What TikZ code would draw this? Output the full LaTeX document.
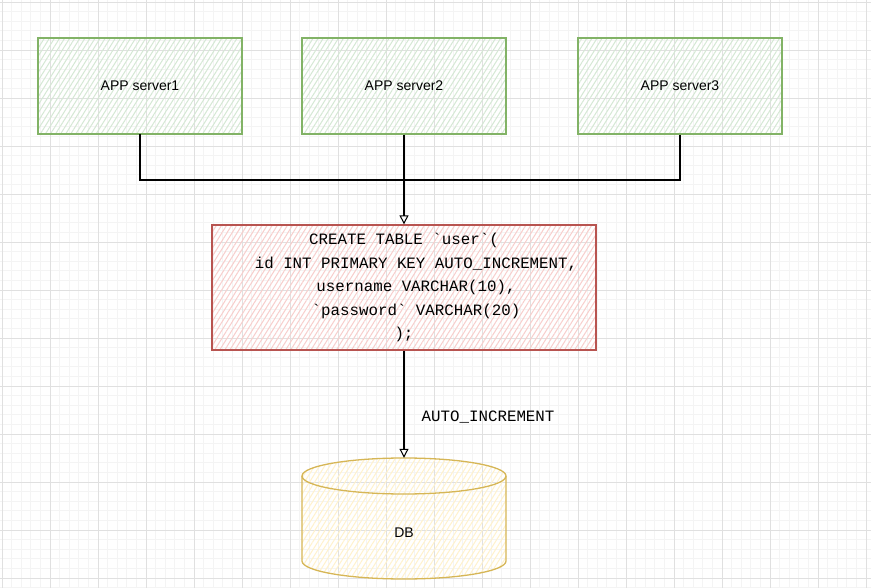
\documentclass[tikz,border=0pt]{standalone}
\usepackage{fontspec}
\setmainfont{Liberation Sans}
\newfontfamily\sqlfont{Liberation Mono}
\usetikzlibrary{patterns.meta,arrows.meta,calc}
\definecolor{gstroke}{HTML}{82B366}
\definecolor{ghatch}{HTML}{D5E8D4}
\definecolor{rstroke}{HTML}{B85450}
\definecolor{rhatch}{HTML}{F8CECC}
\definecolor{ystroke}{HTML}{D6B656}
\definecolor{yhatch}{HTML}{FFF2CC}
\definecolor{minorgrid}{HTML}{F4F4F4}
\definecolor{majorgrid}{HTML}{E0E0E0}
\tikzset{
  hatch/.style={pattern={Lines[angle=58,distance=4.3pt,line width=1pt]}},
  appbox/.style={draw=gstroke, line width=1.3pt, hatch, pattern color=ghatch,
    minimum width=204pt, minimum height=96pt, inner sep=0pt,
    font=\fontsize{14}{16}\selectfont},
  sqlbox/.style={draw=rstroke, line width=1.3pt, hatch, pattern color=rhatch,
    minimum width=384pt, minimum height=125pt, inner sep=0pt, align=center,
    font=\sqlfont\fontsize{15.8}{23.5}\selectfont},
  dbline/.style={draw=ystroke, line width=1.3pt},
  conn/.style={draw=black, line width=1.4pt},
  tip/.style={-{Triangle[open,length=9pt,width=9pt,line width=1pt]}},
  edgelabel/.style={font=\sqlfont\fontsize{15.8}{18}\selectfont, inner sep=0pt},
  dbtext/.style={font=\fontsize{14}{16}\selectfont, inner sep=0pt}
}
\begin{document}
\begin{tikzpicture}[x=1pt,y=-1pt]
\fill[white] (0,0) rectangle (871,588);
\useasboundingbox (0,0) rectangle (871,588);
% grid
\foreach \i in {0,...,90} {
  \draw[minorgrid, line width=0.8pt] ({2+9.6*\i},0) -- ({2+9.6*\i},588);
}
\foreach \i in {0,...,61} {
  \draw[minorgrid, line width=0.8pt] (0,{2+9.6*\i}) -- (871,{2+9.6*\i});
}
\foreach \i in {0,...,18} {
  \draw[majorgrid, line width=0.9pt] ({2+48*\i},0) -- ({2+48*\i},588);
}
\foreach \i in {0,...,12} {
  \draw[majorgrid, line width=0.9pt] (0,{2+48*\i}) -- (871,{2+48*\i});
}
% servers
\node[appbox] (s1) at (140,86) {APP server1};
\node[appbox] (s2) at (404,86) {APP server2};
\node[appbox] (s3) at (680,86) {APP server3};
% SQL box
\node[sqlbox] (sql) at (404,287.5) {CREATE TABLE `user`(\\
\hspace*{24pt}id INT PRIMARY KEY AUTO\_INCREMENT,\\
\hspace*{24pt}username VARCHAR(10),\\
\hspace*{24pt}`password` VARCHAR(20)\\
);};
% DB cylinder
\node[minimum width=204pt, minimum height=121pt, inner sep=0pt] (db) at (404,518.5) {};
\path[pattern={Lines[angle=58,distance=4.3pt,line width=1pt]}, pattern color=yhatch]
  (302,476) -- (302,561) arc[start angle=180, end angle=0, x radius=102, y radius=18]
  -- (506,476) arc[start angle=0, end angle=-180, x radius=102, y radius=18] -- cycle;
\draw[dbline] (302,476) -- (302,561) arc[start angle=180, end angle=0, x radius=102, y radius=18]
  -- (506,476);
\draw[dbline] (404,476) ellipse[x radius=102, y radius=18];
\node[dbtext] (dbt) at (404,533) {DB};
% connectors
\coordinate (j) at (404,180);
\draw[conn] (s1.south) |- (j);
\draw[conn] (s3.south) |- (j);
\draw[conn, tip] (s2.south) -- (sql.north);
\draw[conn, tip] (sql.south) -- node[pos=0.62, anchor=west, xshift=17pt, edgelabel] {AUTO\_INCREMENT} (db.north);
\end{tikzpicture}
\end{document}
